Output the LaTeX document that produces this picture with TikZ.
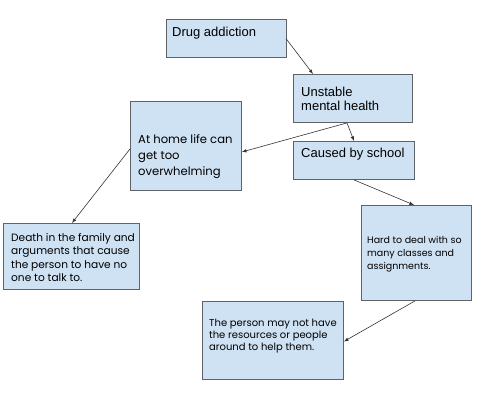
\documentclass[tikz,border=0pt]{standalone}
\usepackage{fontspec}
\usepackage{xcolor}
\usepackage{tikz}
\usetikzlibrary{positioning}
\setmainfont{Liberation Sans}
\newfontfamily\poppins{Poppins}
\definecolor{hellblau}{HTML}{CFE2F3}
\definecolor{rand}{HTML}{5F6368}
\tikzset{
  Kasten/.style={draw=rand, fill=hellblau, line width=0.9pt, inner sep=0pt, anchor=north west}, % Kaesten
  TextA/.style={inner sep=0pt, anchor=base west, font=\fontsize{13}{14}\selectfont},% Arial-Text
  TextB/.style 2 args={inner sep=0pt, anchor=north west, align=left, font={\poppins\fontsize{#1}{#2}\selectfont}},% Poppins-Text
  Pfeil/.style={draw=black!80, line width=0.6pt, ->} % Verbindungen
}
\begin{document}
\begin{tikzpicture}[x=1pt, y=-1pt, >=latex]
\useasboundingbox (0,0) rectangle (496,410);

%Kaesten
\node[Kasten, minimum width=120, minimum height=38] (Sucht) at (166,19) {};
\node[Kasten, minimum width=119, minimum height=48] (Psyche) at (293,74) {};
\node[Kasten, minimum width=121, minimum height=38] (Schule) at (293,141) {};
\node[Kasten, minimum width=111, minimum height=89] (Zuhause) at (130,101) {};
\node[Kasten, minimum width=136, minimum height=66] (Familie) at (3,223) {};
\node[Kasten, minimum width=110, minimum height=95] (Kurse) at (361,205) {};
\node[Kasten, minimum width=141, minimum height=78] (Hilfe) at (202,301) {};

%Texte
\node[TextA] (SuchtText) at (172,36) {Drug addiction};
\node[TextA] (PsycheText) at (301,96) {Unstable};
\node[TextA] (PsycheTextB) at (301,110) {mental health};
\node[TextA] (SchuleText) at (301,157) {Caused by school};
\node[TextB={11.6}{16.3}] (ZuhauseText) at (138,134)
  {At home life can\\get too\\overwhelming};
\node[TextB={10.6}{13.4}] (FamilieText) at (11,233) {Death in the family and\\arguments that cause\\the person to have no\\one to talk to.};
\node[TextB={9.5}{13}] (KurseText) at (367,236) {Hard to deal with so\\many classes and\\assignments.};
\node[TextB={10}{11.8}] (HilfeText) at (209,319) {The person may not have\\the resources or people\\around to help them.};

%Verbindungen
\coordinate (P1) at ([xshift=-1]Sucht.east);
\coordinate (P2) at ([xshift=20]Psyche.north west);
\draw[Pfeil] (P1) -- (P2);
\coordinate (P3) at ([xshift=54]Psyche.south west);
\coordinate (P4) at ([xshift=61]Schule.north west);
\draw[Pfeil] (P3) -- (P4);
\coordinate (P5) at ([yshift=-6]Zuhause.east);
\draw[Pfeil] (P3) -- (P5);
\coordinate (P6) at ([yshift=-3]Zuhause.west);
\coordinate (P7) at ([xshift=69]Familie.north west);
\draw[Pfeil] (P6) -- (P7);
\coordinate (P8) at ([xshift=61]Schule.south west);
\coordinate (P9) at ([xshift=53]Kurse.north west);
\draw[Pfeil] (P8) -- (P9);
\coordinate (P10) at ([xshift=54]Kurse.south west);
\coordinate (P11) at ([yshift=-1]Hilfe.east);
\draw[Pfeil] (P10) -- (P11);

\end{tikzpicture}
\end{document}
